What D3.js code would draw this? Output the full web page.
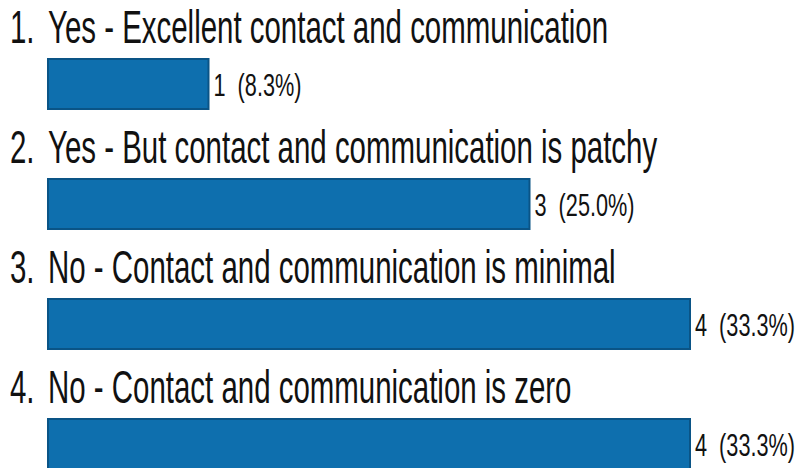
<!DOCTYPE html>
<html>
<head>
<meta charset="utf-8"/>
<title>Survey bars</title>
<script src="https://cdnjs.cloudflare.com/ajax/libs/d3/7.8.5/d3.min.js"></script>
<style>
  body { margin: 0; background: #fff; }
  text { font-family: "Liberation Sans", Arial, sans-serif; fill: #111; }
</style>
</head>
<body>
<div id="chart"></div>
<script>
// answers and counts
var answers = [
  "Yes - Excellent contact and communication",
  "Yes - But contact and communication is patchy",
  "No - Contact and communication is minimal",
  "No - Contact and communication is zero"
];
var counts = [1, 3, 4, 4];
var percents = ["8.3%", "25.0%", "33.3%", "33.3%"];

var width = 795, height = 468;

var svg = d3.select("#chart").append("svg")
    .attr("width", width)
    .attr("height", height);

var x = d3.scaleLinear().domain([0, 4]).range([48, 690]);
var y = d3.scaleBand().domain(d3.range(answers.length)).range([0, 480]);

var rows = svg.selectAll("g.row")
    .data(answers)
    .enter().append("g")
    .attr("class", "row")
    .attr("transform", function(d, i) { return "translate(0," + y(i) + ")"; });

// question line (text squeezed sideways like the screenshot)
rows.append("text")
    .attr("transform", "translate(10,43) scale(0.64,1)")
    .style("font-size", "46px")
    .text(function(d, i) { return (i + 1) + "."; });

rows.append("text")
    .attr("transform", "translate(48,43) scale(0.64,1)")
    .style("font-size", "46px")
    .text(function(d) { return d; });

rows.append("rect")
    .attr("x", x(0))
    .attr("y", 59)
    .attr("width", function(d, i) { return x(counts[i]) - x(0); })
    .attr("height", 50)
    .attr("fill", "#0e6fae")
    .attr("stroke", "#0a5486")
    .attr("stroke-width", 2);

rows.append("text")
    .attr("transform", function(d, i) { return "translate(" + (x(counts[i]) + 5) + ",96) scale(0.7,1)"; })
    .style("font-size", "31px")
    .attr("xml:space", "preserve")
    .text(function(d, i) { return counts[i] + "  (" + percents[i] + ")"; });
</script>
</body>
</html>
